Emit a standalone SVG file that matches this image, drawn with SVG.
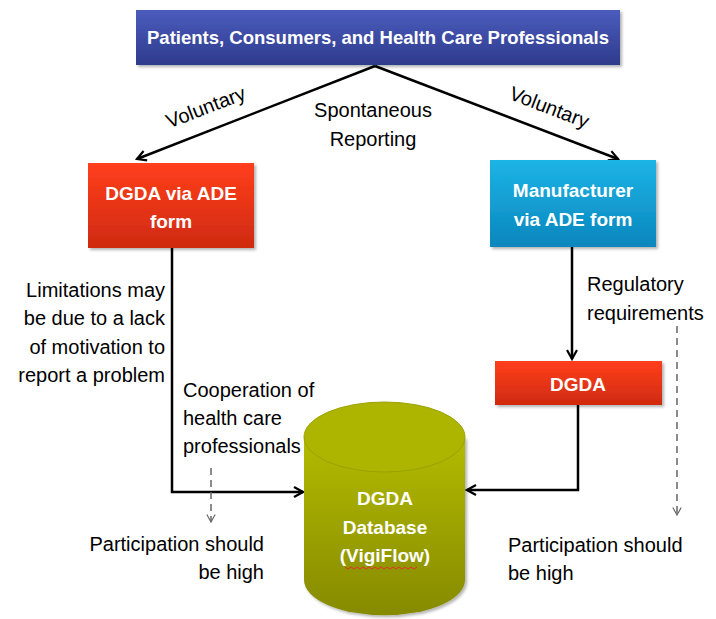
<svg xmlns="http://www.w3.org/2000/svg" width="716" height="619" viewBox="0 0 716 619">
<defs>
<linearGradient id="gBlue" x1="0" y1="0" x2="0" y2="1"><stop offset="0" stop-color="#4b5cbd"/><stop offset="1" stop-color="#2e3b8c"/></linearGradient>
<linearGradient id="gRed" x1="0" y1="0" x2="0" y2="1"><stop offset="0" stop-color="#ff3f1c"/><stop offset="1" stop-color="#cf2a10"/></linearGradient>
<linearGradient id="gCyan" x1="0" y1="0" x2="0" y2="1"><stop offset="0" stop-color="#1db4e6"/><stop offset="1" stop-color="#0a86bd"/></linearGradient>
<linearGradient id="gOlive" x1="0" y1="0" x2="0" y2="1"><stop offset="0" stop-color="#b3bb00"/><stop offset="1" stop-color="#868a00"/></linearGradient>
<filter id="sh" x="-10%" y="-10%" width="130%" height="140%"><feDropShadow dx="2" dy="2" stdDeviation="1.5" flood-color="#000" flood-opacity="0.3"/></filter>
<marker id="ah" viewBox="0 0 12 12" refX="10" refY="6" markerWidth="12" markerHeight="12" markerUnits="userSpaceOnUse" orient="auto"><path d="M1,1 L10,6 L1,11" fill="none" stroke="#000" stroke-width="2.2"/></marker>
<marker id="ahg" viewBox="0 0 12 12" refX="10" refY="6" markerWidth="10" markerHeight="10" markerUnits="userSpaceOnUse" orient="auto"><path d="M1,1 L10,6 L1,11" fill="none" stroke="#666" stroke-width="1.4"/></marker>
<style>
.t{font-family:"Liberation Sans",Arial,sans-serif;font-size:20px;fill:#000}
.w{font-family:"Liberation Sans",Arial,sans-serif;font-size:19px;font-weight:bold;fill:#fff;text-anchor:middle}
.ln{fill:none;stroke:#000;stroke-width:2.5}
.dl{fill:none;stroke:#666;stroke-width:1.5;stroke-dasharray:7 5}
</style>
</defs>
<rect width="716" height="619" fill="#fff"/>
<g id="connectors">
<path class="ln" d="M375,66 L137,159" marker-end="url(#ah)"/>
<path class="ln" d="M375,66 L618,159" marker-end="url(#ah)"/>
<path class="ln" d="M172,248 V492 H303" marker-end="url(#ah)"/>
<path class="ln" d="M572,247 V359" marker-end="url(#ah)"/>
<path class="ln" d="M578,405 V490 H467" marker-end="url(#ah)"/>
<path class="dl" d="M211,468 V522" marker-end="url(#ahg)"/>
<path class="dl" d="M677,326 V515" marker-end="url(#ahg)"/>
</g>
<g id="top">
<rect x="136" y="10" width="484" height="55" fill="url(#gBlue)" filter="url(#sh)"/>
<text class="w" x="378" y="44" font-size="20" textLength="462" lengthAdjust="spacingAndGlyphs">Patients, Consumers, and Health Care Professionals</text>
</g>
<g id="dgda-ade">
<rect x="88" y="163" width="166" height="85" fill="url(#gRed)" filter="url(#sh)"/>
<text class="w" x="171" y="200">DGDA via ADE</text>
<text class="w" x="171" y="228">form</text>
</g>
<g id="manufacturer">
<rect x="490" y="160" width="166" height="87" fill="url(#gCyan)" filter="url(#sh)"/>
<text class="w" x="573" y="197">Manufacturer</text>
<text class="w" x="573" y="226">via ADE form</text>
</g>
<g id="dgda">
<rect x="495" y="361" width="167" height="44" fill="url(#gRed)" filter="url(#sh)"/>
<text class="w" x="578" y="391">DGDA</text>
</g>
<g id="database">
<path d="M304,437 V580 A80,35 0 0 0 465,580 V437 Z" fill="url(#gOlive)" filter="url(#sh)"/>
<ellipse cx="384.5" cy="437" rx="80.5" ry="35" fill="#adb500" stroke="#9aa200" stroke-width="1"/>
<text class="w" x="385" y="505">DGDA</text>
<text class="w" x="385" y="534">Database</text>
<text class="w" x="385" y="562">(VigiFlow)</text>
<path d="M345,567 l3,2 l3,-2 l3,2 l3,-2 l3,2 l3,-2 l3,2 l3,-2 l3,2 l3,-2 l3,2 l3,-2 l3,2 l3,-2 l3,2 l3,-2 l3,2 l3,-2 l3,2 l3,-2 l3,2 l3,-2 l3,2 l3,-2" fill="none" stroke="#e03030" stroke-width="1"/>
</g>
<g id="labels">
<text class="t" transform="translate(206,108) rotate(-21)" text-anchor="middle" y="6">Voluntary</text>
<text class="t" transform="translate(549,108) rotate(21)" text-anchor="middle" y="6">Voluntary</text>
<text class="t" x="373" y="117" text-anchor="middle">Spontaneous</text>
<text class="t" x="373" y="146" text-anchor="middle">Reporting</text>
<g text-anchor="end">
<text class="t" x="165" y="297">Limitations may</text>
<text class="t" x="165" y="325">be due to a lack</text>
<text class="t" x="165" y="354">of motivation to</text>
<text class="t" x="165" y="382">report a problem</text>
<text class="t" x="264" y="551">Participation should</text>
<text class="t" x="264" y="579">be high</text>
</g>
<text class="t" x="183" y="397">Cooperation of</text>
<text class="t" x="183" y="425">health care</text>
<text class="t" x="183" y="453">professionals</text>
<text class="t" x="587" y="291">Regulatory</text>
<text class="t" x="587" y="320">requirements</text>
<text class="t" x="508" y="552">Participation should</text>
<text class="t" x="508" y="580">be high</text>
</g>
</svg>
